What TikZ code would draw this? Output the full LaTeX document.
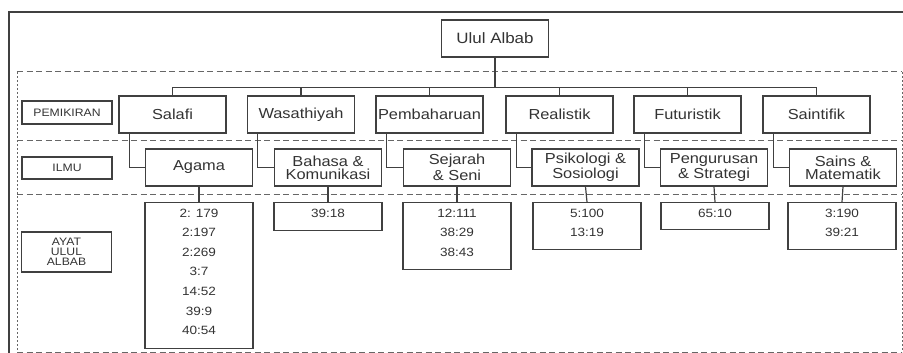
\documentclass[tikz,border=0pt]{standalone}
\usepackage{fontspec}
\setmainfont[FakeStretch=1.13]{Liberation Sans}
\definecolor{ink}{HTML}{333333}
\definecolor{edge}{HTML}{404040}
\definecolor{bandgray}{HTML}{666666}

\begin{document}
\begin{tikzpicture}[x=1pt, y=-1pt,
  box/.style={draw=edge, line width=1.3pt, text=ink, inner sep=0pt, minimum width=107pt, minimum height=37pt, align=center, font=\fontsize{14.5}{13}\selectfont},
  rowlbl/.style={draw=edge, line width=1.2pt, text=ink, inner sep=0pt, minimum width=90pt, align=center, font=\fontsize{10.8}{10.2}\selectfont},
  ayatbox/.style={draw=edge, line width=1.3pt, minimum width=108pt, anchor=north, inner sep=0pt},
  ayattext/.style={text=ink, anchor=north, inner sep=0pt, align=center, font=\fontsize{12}{19.6}\selectfont},
  link/.style={draw=edge, line width=1.2pt},
  band/.style={draw=bandgray, line width=1pt, dash pattern=on 6pt off 3.5pt}]
\useasboundingbox (0,0) rectangle (903,353);

% frame and bands
\draw [edge, line width=1.5pt] (903,12) -- (9,12) -- (9,353);
\draw [band] (17,72) -- (902,72);
\draw [band] (17,140) -- (902,140);
\draw [band] (17,194) -- (902,194);
\draw [band] (17,352) -- (902,352);
\draw [band, dash pattern=on 2pt off 2pt] (17,72) -- (17,352);
\draw [band, dash pattern=on 2pt off 2pt] (902,72) -- (902,352);

% row labels
\node [rowlbl, minimum height=23pt] (pemikiran) at (67,112.5) {PEMIKIRAN};
\node [rowlbl, minimum height=22pt] (ilmu) at (67,168) {ILMU};
\node [rowlbl, minimum height=40pt] (ayat) at (66.5,252) {AYAT\\ULUL\\ALBAB};

% root
\node [box, font=\fontsize{15}{13}\selectfont] (root) at (495,38.5) {Ulul Albab};

% pemikiran
\node [box] (salafi) at (172.5,114.5) {Salafi};
\node [box] (wasathiyah) at (301,114.5) {Wasathiyah};
\node [box] (pembaharuan) at (429.5,114.5) {Pembaharuan};
\node [box] (realistik) at (559.5,114.5) {Realistik};
\node [box] (futuristik) at (687.5,114.5) {Futuristik};
\node [box] (saintifik) at (816.5,114.5) {Saintifik};

% ilmu
\node [box] (agama) at (199,167.5) {Agama};
\node [box] (bahasa) at (328,167.5) {Bahasa \&\\Komunikasi};
\node [box, font=\fontsize{14.5}{16.5}\selectfont] (sejarah) at (457,167.5) {Sejarah\\\& Seni};
\node [box] (psikologi) at (585.5,167.5) {Psikologi \&\\Sosiologi};
\node [box] (pengurusan) at (714,167.5) {Pengurusan\\\& Strategi};
\node [box] (sains) at (843,167.5) {Sains \&\\Matematik};

% ayat
\node [ayatbox, minimum height=146pt] (agamaayat) at (199,202) {};
\node [ayattext] (agamalist) at ([yshift=-6.5pt]agamaayat.north) {2: 179\\2:197\\2:269\\3:7\\14:52\\39:9\\40:54};
\node [ayatbox, minimum height=28pt] (bahasaayat) at (328,202) {};
\node [ayattext] (bahasalist) at ([yshift=-6.5pt]bahasaayat.north) {39:18};
\node [ayatbox, minimum height=67pt] (sejarahayat) at (457,202) {};
\node [ayattext] (sejarahlist) at ([yshift=-6.5pt]sejarahayat.north) {12:111\\38:29\\38:43};
\node [ayatbox, minimum height=47pt] (psikologiayat) at (587,202) {};
\node [ayattext] (psikologilist) at ([yshift=-6.5pt]psikologiayat.north) {5:100\\13:19};
\node [ayatbox, minimum height=27pt] (pengurusanayat) at (715,202) {};
\node [ayattext] (pengurusanlist) at ([yshift=-6.5pt]pengurusanayat.north) {65:10};
\node [ayatbox, minimum height=47pt] (sainsayat) at (842,202) {};
\node [ayattext] (sainslist) at ([yshift=-6.5pt]sainsayat.north) {3:190\\39:21};

% tree
\draw [link] (root.south) -- ++(0,30) -| (salafi.north);
\draw [link] (root.south) -- ++(0,30) -| (wasathiyah.north);
\draw [link] (root.south) -- ++(0,30) -| (pembaharuan.north);
\draw [link] (root.south) -- ++(0,30) -| (realistik.north);
\draw [link] (root.south) -- ++(0,30) -| (futuristik.north);
\draw [link] (root.south) -- ++(0,30) -| (saintifik.north);

% pemikiran to ilmu
\draw [link] ([xshift=11pt]salafi.south west) |- (agama.west);
\draw [link] ([xshift=11pt]wasathiyah.south west) |- (bahasa.west);
\draw [link] ([xshift=11pt]pembaharuan.south west) |- (sejarah.west);
\draw [link] ([xshift=11pt]realistik.south west) |- (psikologi.west);
\draw [link] ([xshift=11pt]futuristik.south west) |- (pengurusan.west);
\draw [link] ([xshift=11pt]saintifik.south west) |- (sains.west);

% ilmu to ayat
\draw [link] (agama.south) -- (agamaayat.north);
\draw [link] (bahasa.south) -- (bahasaayat.north);
\draw [link] (sejarah.south) -- (sejarahayat.north);
\draw [link] (psikologi.south) -- (psikologiayat.north);
\draw [link] (pengurusan.south) -- (pengurusanayat.north);
\draw [link] (sains.south) -- (sainsayat.north);
\end{tikzpicture}
\end{document}
